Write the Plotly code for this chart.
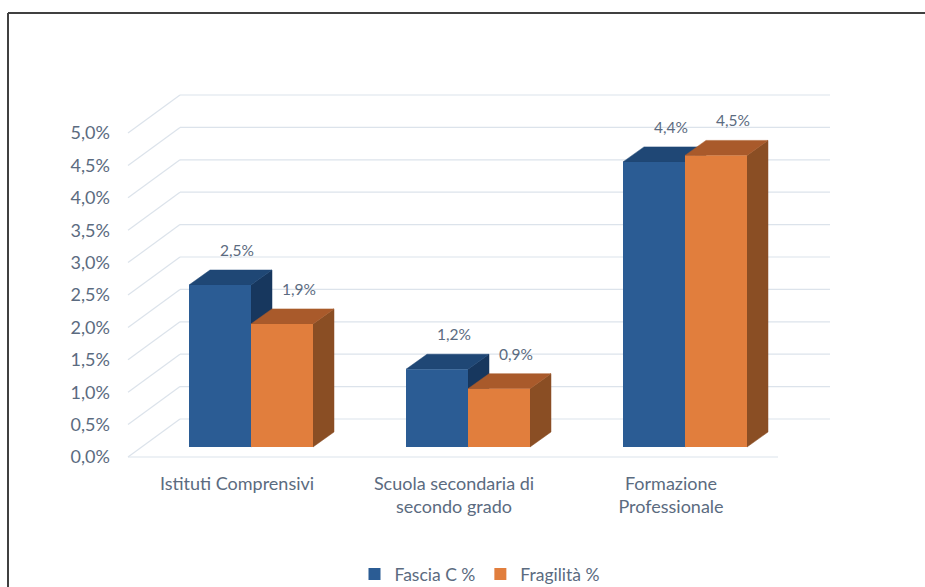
import plotly.graph_objects as go

# ---------------- data ----------------
categories = ["Istituti Comprensivi", "Scuola secondaria di<br>secondo grado", "Formazione<br>Professionale"]
fascia_c = [2.5, 1.2, 4.4]
fragilita = [1.9, 0.9, 4.5]
series_names = ["Fascia C %", "Fragilità %"]
y_ticks = [0, 0.5, 1.0, 1.5, 2.0, 2.5, 3.0, 3.5, 4.0, 4.5, 5.0]

# ---------------- geometry (pixel based styling) ----------------
W, H = 925, 587
X0PIX, PXX = 251, 217.0      # category 0 centre on bar plane (px), px per category
Y0PIX, PXY = 447, 64.8       # 0% on bar plane (px), px per 1 %
PL, PR, PT, PB = 118, 885, 40, 462   # plot area in px
ML, MR, MT, MB = PL, W - PR, PT, H - PB


def dxu(px):
    return px / PXX


def dyu(px):
    return px / PXY


def xu(px):
    return (px - X0PIX) / PXX


def yu(px):
    return (Y0PIX - px) / PXY


BAR_W = dxu(62)
DEP_X, DEP_Y = dxu(21), dyu(15)
FRONT_DY = -dyu(10)   # front wall / floor front edge
BACK_DY = dyu(28)     # back wall
WALL_FRONT_X, WALL_BACK_X = xu(128), xu(180)
BACK_RIGHT_X, FLOOR_RIGHT_X = xu(830), xu(778)

TEXT = "#5B6B80"
GRID = "#DCE3EB"
FONT = "Lato, 'Open Sans', sans-serif"

BLUE = dict(front="#2B5C94", top="#1F4775", side="#17375E")
ORANGE = dict(front="#E17E3D", top="#A95A2B", side="#8A4E24")

positions = list(range(len(categories)))

fig = go.Figure()

# ---------------- walls / gridlines ----------------
gx, gy = [], []
for v in y_ticks:
    gx += [WALL_BACK_X, BACK_RIGHT_X, None]
    gy += [v + BACK_DY, v + BACK_DY, None]
    gx += [WALL_FRONT_X, WALL_BACK_X, None]
    gy += [v + FRONT_DY, v + BACK_DY, None]
gx += [WALL_FRONT_X, FLOOR_RIGHT_X, None]
gy += [FRONT_DY, FRONT_DY, None]
fig.add_trace(go.Scatter(x=gx, y=gy, mode="lines", line=dict(color=GRID, width=1.2),
                         hoverinfo="skip", showlegend=False, zorder=0))


def add_series(values, offset, colors, name, z):
    tx, ty, sx, sy = [], [], [], []
    for p, v in zip(positions, values):
        xl = p + offset
        xr = xl + BAR_W
        tx += [xl, xr, xr + DEP_X, xl + DEP_X, xl, None]
        ty += [v, v, v + DEP_Y, v + DEP_Y, v, None]
        sx += [xr, xr, xr + DEP_X, xr + DEP_X, xr, None]
        sy += [0, v, v + DEP_Y, DEP_Y, 0, None]
    fig.add_trace(go.Scatter(x=sx, y=sy, mode="lines", fill="toself", fillcolor=colors["side"],
                             line=dict(color=colors["side"], width=0.5), hoverinfo="skip",
                             showlegend=False, zorder=z))
    fig.add_trace(go.Scatter(x=tx, y=ty, mode="lines", fill="toself", fillcolor=colors["top"],
                             line=dict(color=colors["top"], width=0.5), hoverinfo="skip",
                             showlegend=False, zorder=z))
    fig.add_trace(go.Bar(x=positions, y=values, width=BAR_W, offset=offset, name=name,
                         marker=dict(color=colors["front"], line=dict(width=0)), zorder=z + 1))
    fig.add_trace(go.Scatter(
        x=[p + offset + BAR_W / 2 + dxu(17) for p in positions],
        y=[v + dyu(33) for v in values],
        text=[f"{v:.1f}%".replace(".", ",") for v in values],
        mode="text", textfont=dict(family=FONT, size=15.5, color=TEXT),
        hoverinfo="skip", showlegend=False, zorder=10))


add_series(fascia_c, -BAR_W, BLUE, series_names[0], 1)
add_series(fragilita, 0, ORANGE, series_names[1], 3)


# ---------------- frame (top and left edges of the chart border) ----------------
def px_paper_x(px):
    return (px - PL) / (PR - PL)


def px_paper_y(py):
    return (PB - py) / (PB - PT)


frame = dict(color="#404040", width=2)
fig.add_shape(type="line", xref="paper", yref="paper", layer="above", line=frame,
              x0=px_paper_x(8), x1=px_paper_x(940), y0=px_paper_y(13), y1=px_paper_y(13))
fig.add_shape(type="line", xref="paper", yref="paper", layer="above", line=frame,
              x0=px_paper_x(8), x1=px_paper_x(8), y0=px_paper_y(13), y1=px_paper_y(600))

fig.update_layout(
    width=W, height=H,
    margin=dict(l=ML, r=MR, t=MT, b=MB, autoexpand=False),
    paper_bgcolor="white", plot_bgcolor="white",
    barmode="overlay",
    font=dict(family=FONT, size=18, color=TEXT),
    xaxis=dict(range=[xu(PL), xu(PR)], showgrid=False, zeroline=False, showline=False,
               automargin=False,
               tickmode="array", tickvals=[p - dxu(14) for p in positions], ticktext=categories,
               ticks="", tickfont=dict(family=FONT, size=18, color=TEXT), ticklabelstandoff=9),
    yaxis=dict(range=[yu(PB), yu(PT)], showgrid=False, zeroline=False, showline=False,
               automargin=False,
               tickmode="array", tickvals=[v + FRONT_DY for v in y_ticks],
               ticktext=[f"{v:.1f}%".replace(".", ",") for v in y_ticks],
               ticks="", tickfont=dict(family=FONT, size=18, color=TEXT), ticklabelstandoff=7),
    legend=dict(orientation="h", xref="paper", x=px_paper_x(480), xanchor="center",
                yref="container", y=(H - 574) / H, yanchor="middle",
                font=dict(family=FONT, size=17.5, color=TEXT),
                bgcolor="rgba(0,0,0,0)"),
)

fig.write_html("out.html", config={"displayModeBar": False},
               post_script="document.body.style.margin='0px';")
